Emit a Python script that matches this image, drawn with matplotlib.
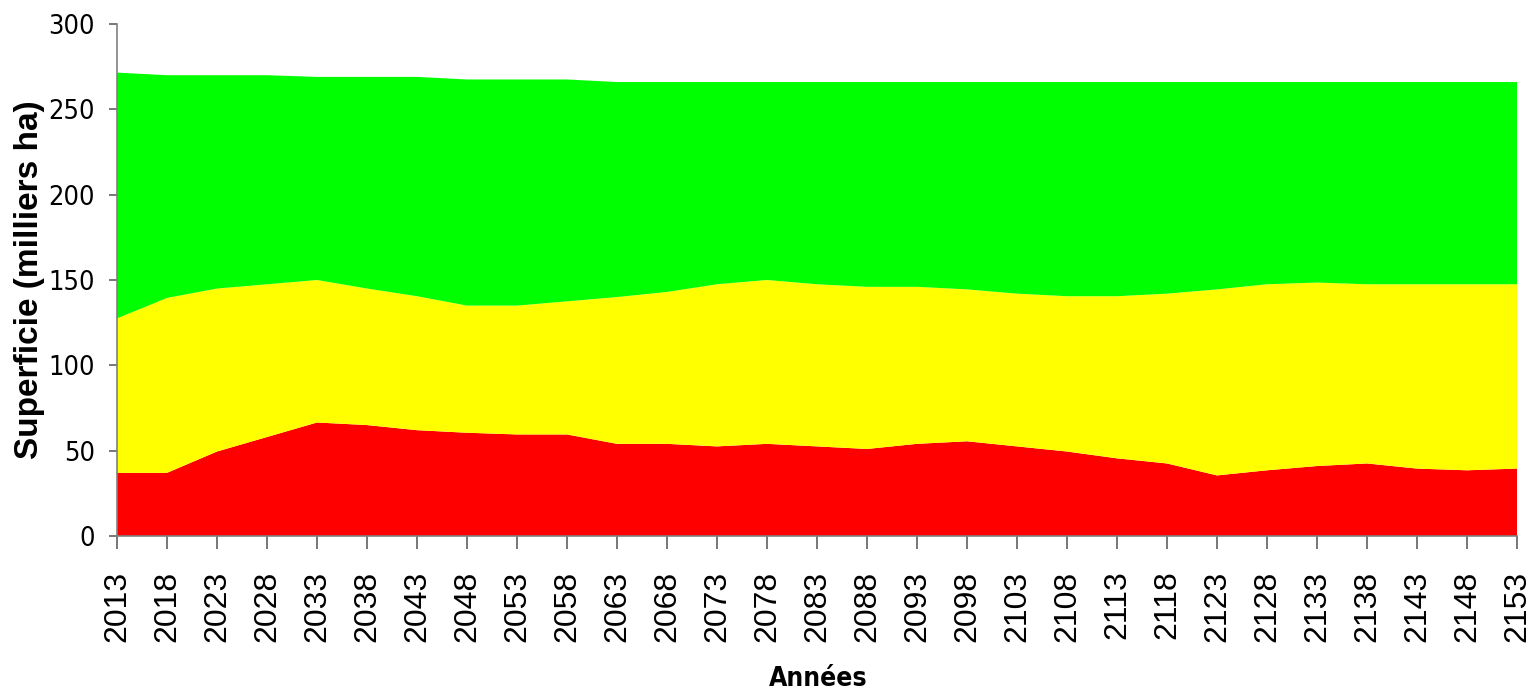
"""Stacked area chart: surface (thousand ha) per class over the years 2013-2153."""
import matplotlib
matplotlib.use("Agg")
import matplotlib.pyplot as plt
from matplotlib import font_manager
from matplotlib.font_manager import FontProperties

OUT = "out.png"

years = list(range(2013, 2154, 5))

# layer thicknesses (milliers ha), bottom to top
rouge = [37, 37, 49.5, 58, 66.5, 65, 62, 60.5, 59.5, 59.5, 54, 54, 52.5, 54, 52.5,
         51, 54, 55.5, 52.5, 49.5, 45.5, 42.5, 35.5, 38.5, 41, 42.5, 39.5, 38.5, 39.5]
jaune = [90.5, 102.5, 95.5, 89.5, 83.5, 80, 78.5, 74.5, 75.5, 78, 86, 89, 95, 96, 95,
         95, 92, 89, 89.5, 91, 95, 99.5, 109, 109, 107.5, 105, 108, 109, 108]
vert = [144, 130.5, 125, 122.5, 119, 124, 128.5, 132.5, 132.5, 130, 126, 123, 118.5, 116, 118.5,
        120, 120, 121.5, 124, 125.5, 125.5, 124, 121.5, 118.5, 117.5, 118.5, 118.5, 118.5, 118.5]

yticks = [0, 50, 100, 150, 200, 250, 300]


def narrow_font(bold=False):
    """Find an installed narrow/condensed sans face (Arial Narrow look-alike)."""
    want = 700 if bold else 400
    best = None
    for f in font_manager.fontManager.ttflist:
        tag = (f.name + " " + str(f.fname)).lower()
        narrow = "narrow" in tag or "condensed" in tag or str(f.stretch) in ("condensed", "semi-condensed")
        if not narrow or f.style != "normal" or "mono" in tag or "serif" in tag and "sans" not in tag:
            continue
        w = f.weight if isinstance(f.weight, int) else (700 if "bold" in str(f.weight) else 400)
        score = (0 if "liberation" in tag else 1, abs(w - want))
        if best is None or score < best[0]:
            best = (score, f.fname)
    if best is None:
        return FontProperties(family="Liberation Sans", weight="bold" if bold else "normal")
    return FontProperties(fname=best[1])


def main():
    fig = plt.figure(figsize=(15.37, 6.95), dpi=100)
    ax = fig.add_axes([117 / 1537, 1 - 536 / 695, 1400 / 1537, 512 / 695])

    ax.stackplot(years, rouge, jaune, vert, colors=["#ff0000", "#ffff00", "#00ff00"], lw=0)

    ax.set_xlim(years[0], years[-1])
    ax.set_ylim(0, 300)
    ax.set_xticks(years)
    ax.set_xticklabels([str(y) for y in years], rotation=90, fontsize=23, family="Liberation Sans")
    ax.set_yticks(yticks)
    fp_y = narrow_font()
    fp_y.set_size(19.5)
    ax.set_yticklabels([str(v) for v in yticks], fontproperties=fp_y)

    for side in ("top", "right"):
        ax.spines[side].set_visible(False)
    for side in ("left", "bottom"):
        ax.spines[side].set_color("#808080")
        ax.spines[side].set_linewidth(1.2)
    ax.tick_params(axis="x", length=9, width=1.2, color="#606060", pad=16)
    ax.tick_params(axis="y", length=6, width=1.2, color="#606060", pad=10)

    fig.text(30 / 1537, 1 - 280 / 695, "Superficie (milliers ha)", rotation=90, ha="center", va="center",
             fontsize=24, fontweight="bold", family="Liberation Sans")
    fp_x = narrow_font(bold=True)
    fp_x.set_size(19)
    fig.text(818 / 1537, 1 - 679 / 695, "Années", ha="center", va="center", fontproperties=fp_x)

    fig.savefig(OUT, dpi=100)


if __name__ == "__main__":
    main()
